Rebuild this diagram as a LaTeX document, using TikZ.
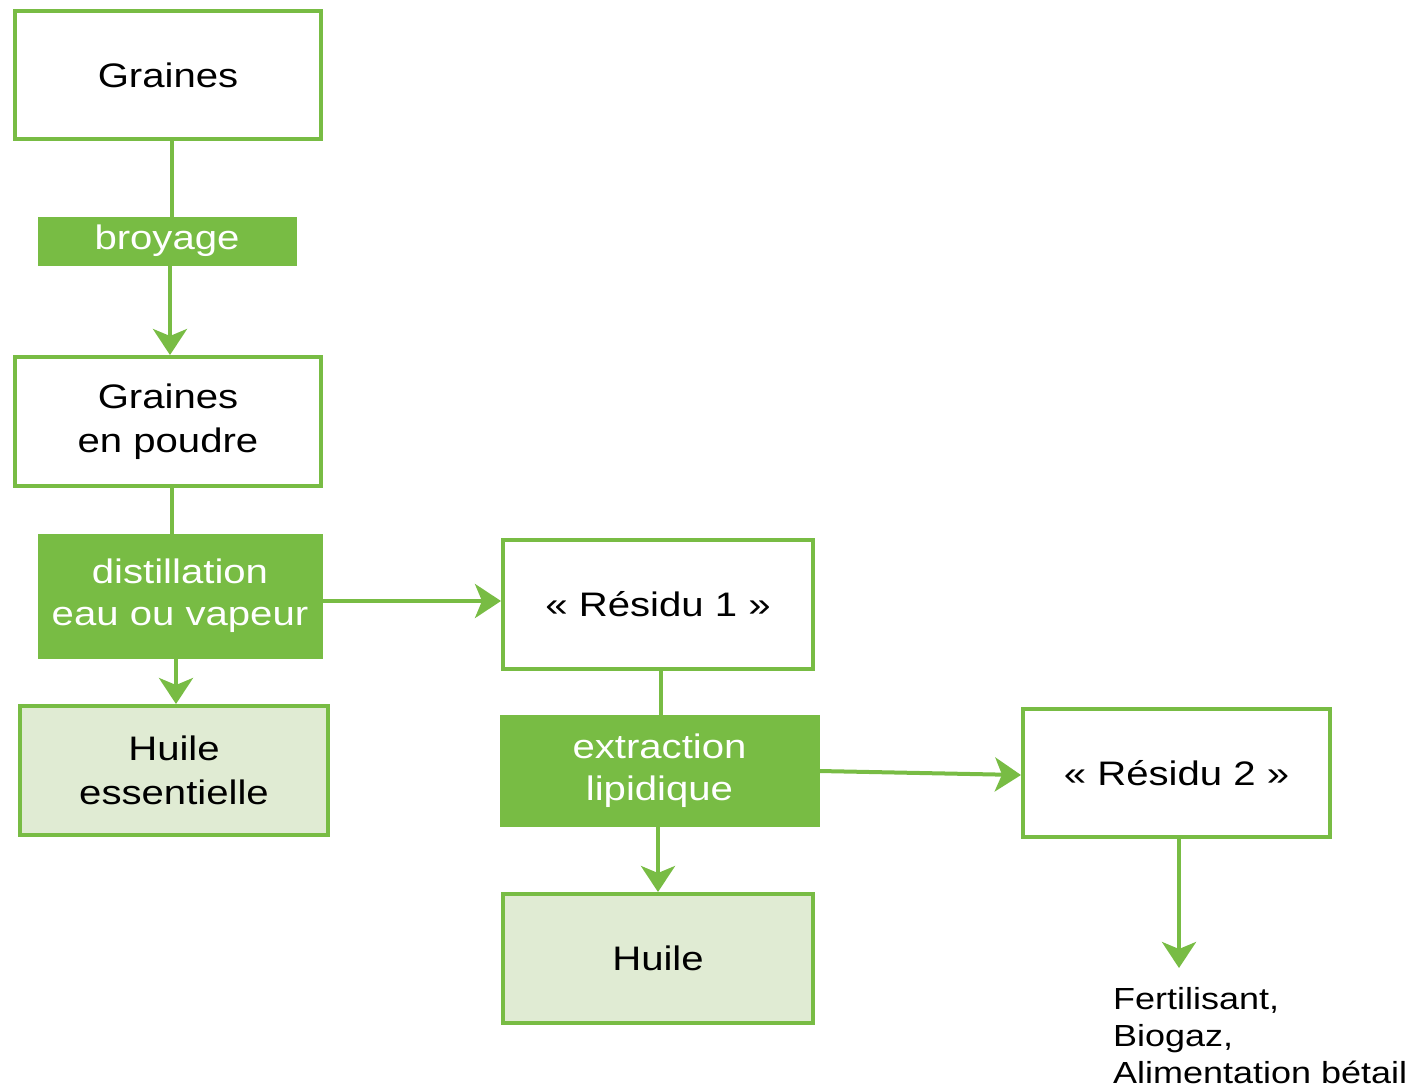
\documentclass[tikz,border=0pt]{standalone}
\usepackage{fontspec}
\setmainfont{Liberation Sans}[FakeStretch=1.18]
\usetikzlibrary{arrows.meta}
\definecolor{gr}{RGB}{120,188,68}
\definecolor{lgr}{RGB}{224,235,211}
\tikzset{
  box/.style={draw=gr, line width=4pt, fill=white, inner sep=0pt, align=center,
    font=\fontsize{34}{44}\selectfont, text=black},
  outbox/.style={box, fill=lgr},
  proc/.style={draw=gr, fill=gr, line width=1pt, inner sep=0pt, align=center,
    font=\fontsize{34}{42}\selectfont, text=white},
  conn/.style={draw=gr, line width=4pt},
  arr/.style={conn, -{Stealth[length=26pt,width=34pt,inset=7pt]}}
}
\begin{document}
\begin{tikzpicture}[x=1pt,y=-1pt]
\useasboundingbox (0,0) rectangle (1422,1088);
\node[box, minimum width=306pt, minimum height=128pt] (g1) at (168,75) {Graines};
\node[proc, minimum width=258pt, minimum height=48pt] (bro) at (167,241) {broyage};
\node[box, minimum width=306pt, minimum height=129pt] (g2) at (168,421.5) {Graines\\en poudre};
\node[proc, minimum width=284pt, minimum height=124pt] (dist) at (180,596) {distillation\\eau ou vapeur};
\node[outbox, minimum width=308pt, minimum height=129pt] (he) at (174,770.5) {Huile\\essentielle};
\node[box, minimum width=310pt, minimum height=129pt] (r1) at (658,604.5) {« Résidu 1 »};
\node[proc, minimum width=319pt, minimum height=111pt] (ext) at (659.5,770.5) {extraction\\lipidique};
\node[outbox, minimum width=310pt, minimum height=129pt] (hu) at (658,958.5) {Huile};
\node[box, minimum width=307pt, minimum height=128pt] (r2) at (1176.5,773) {« Résidu 2 »};
\node[anchor=west, align=left, inner sep=0pt, font=\fontsize{30.5}{37}\selectfont] (use) at (1113,1036) {Fertilisant,\\Biogaz,\\Alimentation bétail};
\coordinate (end) at (1179,968);

\draw[conn] ([xshift=4pt]g1.south) -- ([xshift=5pt]bro.north);
\draw[arr] ([xshift=3pt]bro.south) -- ([xshift=2pt]g2.north);
\draw[conn] ([xshift=4pt]g2.south) -- ([xshift=-8pt]dist.north);
\draw[arr] ([xshift=-4pt]dist.south) -- ([xshift=2pt]he.north);
\draw[arr] ([yshift=-5pt]dist.east) -- ([yshift=3.5pt]r1.west);
\draw[conn] ([xshift=3pt]r1.south) -- ([xshift=1.5pt]ext.north);
\draw[arr] ([xshift=-1.5pt]ext.south) -- (hu.north);
\draw[arr] ([yshift=-0.5pt]ext.east) -- ([yshift=-2pt]r2.west);
\draw[arr] ([xshift=2.5pt]r2.south) -- (end);
\end{tikzpicture}
\end{document}
